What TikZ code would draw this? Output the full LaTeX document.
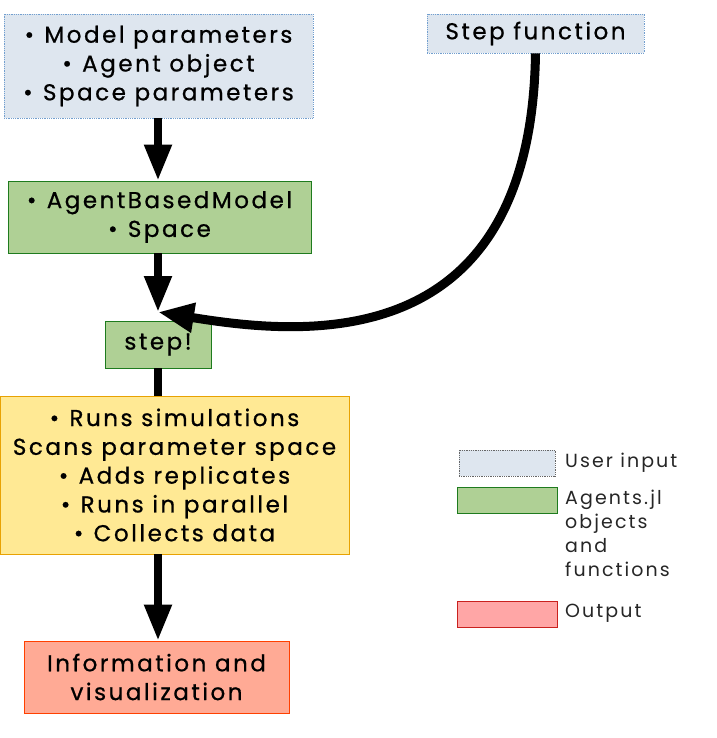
\documentclass[tikz,border=0pt]{standalone}
\usepackage{fontspec}
\setmainfont{Poppins}
\newfontfamily\mainf[LetterSpace=11, FakeBold=0.7]{Poppins}
\newfontfamily\legf[LetterSpace=11]{Poppins}
\usetikzlibrary{arrows.meta}
\definecolor{inblue}{HTML}{DEE6EF}
\definecolor{inblueb}{HTML}{729FCF}
\definecolor{agreen}{HTML}{AFD095}
\definecolor{agreenb}{HTML}{1E7B1E}
\definecolor{yel}{HTML}{FFE994}
\definecolor{yelb}{HTML}{E8A202}
\definecolor{outc}{HTML}{FFAA95}
\definecolor{outb}{HTML}{FF4000}
\definecolor{legred}{HTML}{FFA6A6}
\definecolor{legredb}{HTML}{C9211E}
\newcommand{\bul}{\textbullet\hspace{0.45em}}
\tikzset{
  x=1pt, y=-1pt,
  mainbox/.style={inner sep=0pt, align=center, font=\mainf\fontsize{23}{28.8}\selectfont, text=black},
  userbox/.style={mainbox, fill=inblue, draw=inblueb, densely dotted, line width=0.8pt},
  agbox/.style={mainbox, fill=agreen, draw=agreenb, line width=0.8pt},
  runbox/.style={mainbox, fill=yel, draw=yelb, line width=0.8pt},
  outbox/.style={mainbox, fill=outc, draw=outb, line width=0.8pt},
  legtext/.style={anchor=north west, inner sep=0pt, align=left, font=\legf\fontsize{19}{24}\selectfont, text=black!85},
  flow/.style={line width=8pt, -{Triangle[length=36pt,width=26pt]}},
  plain/.style={line width=8pt},
}
\begin{document}
\begin{tikzpicture}
\useasboundingbox (0,0) rectangle (716,738);
% main boxes
\node[userbox, minimum width=309pt, minimum height=104pt] (inp) at (158.5,66) {\raisebox{0pt}[\height][\depth]{}\bul Model parameters\\\bul Agent object\\\bul Space parameters};
\node[userbox, minimum width=217pt, minimum height=39pt] (sf) at (535.5,33.5) {Step function};
\node[agbox, minimum width=303pt, minimum height=72pt] (abm) at (159.5,217) {\bul AgentBasedModel\\\bul Space};
\node[agbox, minimum width=106pt, minimum height=47pt] (step) at (158,344.5) {step!};
\node[runbox, minimum width=349pt, minimum height=158pt] (run) at (174.5,475) {\bul Runs simulations\\Scans parameter space\\\bul Adds replicates\\\bul Runs in parallel\\\bul Collects data};
\node[outbox, minimum width=265pt, minimum height=72pt] (out) at (156.5,677) {Information and\\visualization};
\coordinate (meet) at (158,312);
% connectors
\draw[flow] (inp.south -| meet) -- (abm.north -| meet);
\draw[flow] (abm.south -| meet) -- (meet);
\draw[plain] (step.south -| meet) -- (run.north -| meet);
\draw[flow] (run.south -| meet) -- (out.north -| meet);
\draw[line width=9pt, -{Triangle[length=36pt,width=28pt]}] (sf.south) .. controls (531,360) and (300,335) .. (meet);
% legend
\node[fill=inblue, draw=black!60, densely dotted, line width=0.8pt, minimum width=96pt, minimum height=26pt, inner sep=0pt] (l1) at (507,463) {};
\node[fill=agreen, draw=agreenb, line width=0.8pt, minimum width=100pt, minimum height=26pt, inner sep=0pt] (l2) at (507,500) {};
\node[fill=legred, draw=legredb, line width=0.8pt, minimum width=100pt, minimum height=26pt, inner sep=0pt] (l3) at (507,614) {};
\node[legtext] (t1) at (565,453) {User input};
\node[legtext] (t2) at (565,490) {Agents.jl\\objects\\and\\functions};
\node[legtext] (t3) at (565,604) {Output};
\end{tikzpicture}
\end{document}
